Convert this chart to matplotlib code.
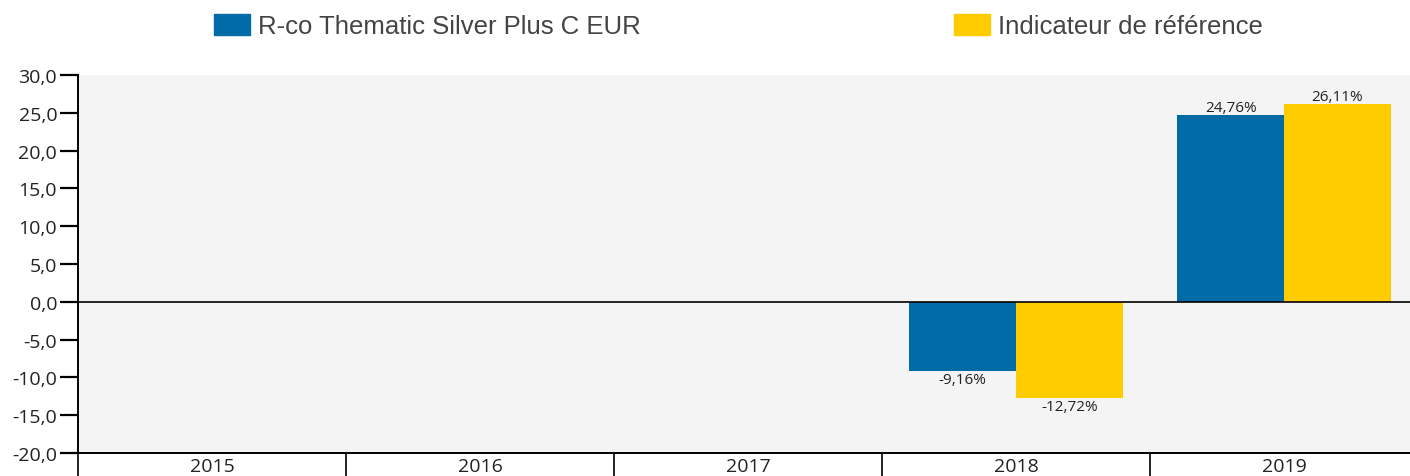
import matplotlib
matplotlib.use("Agg")
import matplotlib.pyplot as plt
from matplotlib.patches import Rectangle
import numpy as np

years = ["2015", "2016", "2017", "2018", "2019"]
series_names = ["R-co Thematic Silver Plus C EUR", "Indicateur de référence"]
fund = [np.nan, np.nan, np.nan, -9.16, 24.76]
bench = [np.nan, np.nan, np.nan, -12.72, 26.11]
colors = ["#006ba6", "#ffcc00"]
yticks = [30, 25, 20, 15, 10, 5, 0, -5, -10, -15, -20]

W, H = 1410, 477
fig = plt.figure(figsize=(W / 100, H / 100), dpi=100)
ax = fig.add_axes([78 / W, (H - 454) / H, 1 - 78 / W, (454 - 76) / H])
ax.set_facecolor("#f4f4f4")

x = np.arange(len(years))
bw = 0.398
b1 = ax.bar(x - bw / 2, fund, bw, color=colors[0], zorder=2)
b2 = ax.bar(x + bw / 2, bench, bw, color=colors[1], zorder=2)

lab_font = dict(family="Open Sans", fontsize=11, color="#222222")
for bars, vals in ((b1, fund), (b2, bench)):
    for rect, v in zip(bars, vals):
        if np.isnan(v):
            continue
        cx = rect.get_x() + rect.get_width() / 2
        txt = f"{v:.2f}%".replace(".", ",")
        if v >= 0:
            ax.annotate(txt, (cx, v), xytext=(0, 0), textcoords="offset points",
                        ha="center", va="bottom", **lab_font)
        else:
            ax.annotate(txt, (cx, v), xytext=(0, -1), textcoords="offset points",
                        ha="center", va="top", **lab_font)

ax.axhline(0, color="#000000", lw=1.2, zorder=3)
ax.set_ylim(-20, 30)
ax.set_xlim(-0.5, -0.5 + 1332 / 268)
ax.set_yticks(yticks)
ax.set_yticklabels([f"{t:.1f}".replace(".", ",") for t in yticks],
                   family="Open Sans", fontsize=14, color="#222222")
ax.tick_params(axis="y", length=13, width=1.6, color="#000000", pad=2)

ax.set_xticks(x)
ax.set_xticklabels(years, family="Open Sans", fontsize=14, color="#222222")
ax.tick_params(axis="x", which="major", length=0, pad=3)
ax.set_xticks(np.arange(len(years)) - 0.5, minor=True)
ax.tick_params(axis="x", which="minor", length=20, width=1.2, color="#000000")

for s in ("top", "right"):
    ax.spines[s].set_visible(False)
ax.spines["left"].set_linewidth(1.4)
ax.spines["bottom"].set_linewidth(1.4)

# legend
leg_font = dict(family="Liberation Sans", fontsize=18.5, color="#444444")
for name, col, px in zip(series_names, colors, (214, 954)):
    fig.patches.append(Rectangle((px / W, (H - 36) / H), 36 / W, 21 / H,
                                 transform=fig.transFigure, color=col))
    fig.text((px + 44) / W, (H - 27) / H, name, ha="left", va="center", **leg_font)

fig.savefig("out.png", dpi=100)
